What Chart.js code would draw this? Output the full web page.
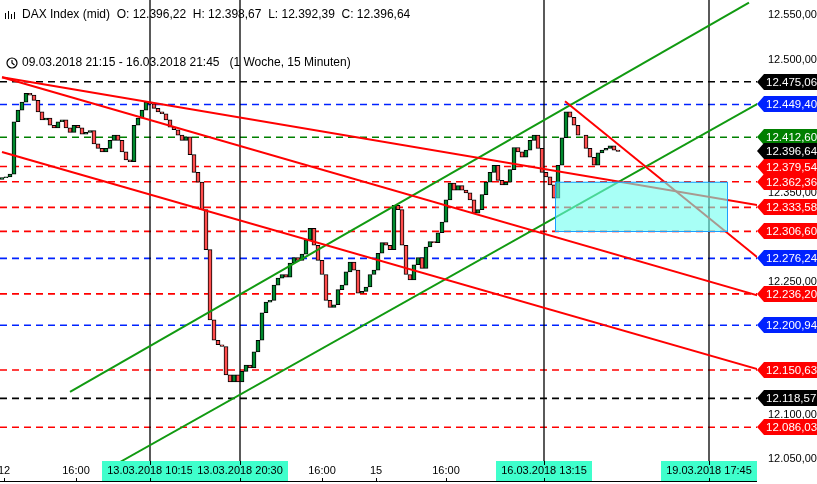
<!DOCTYPE html>
<html>
<head>
<meta charset="utf-8">
<script src="https://cdn.jsdelivr.net/npm/chart.js@4/dist/chart.umd.min.js"></script>
<style>
  html, body { margin: 0; padding: 0; background: #fff; }
  #wrap { width: 817px; height: 484px; position: relative; }
</style>
</head>
<body>
<div id="wrap"><canvas id="chart"></canvas></div>
<script>
// 15-minute closes, DAX 09.03 - 16.03.2018
const closes = [
  12367, 12368, 12371, 12430, 12443, 12452, 12462, 12460, 12454, 12441,
  12432, 12434, 12426, 12423, 12430, 12432, 12423, 12418, 12426, 12423,
  12416, 12418, 12420, 12405, 12400, 12396, 12400, 12409, 12415, 12409,
  12396, 12387, 12385, 12426, 12434, 12443, 12452, 12450, 12445, 12441,
  12439, 12432, 12424, 12421, 12415, 12409, 12413, 12393, 12373, 12362,
  12331, 12286, 12207, 12184, 12179, 12177, 12145, 12137, 12145, 12137,
  12149, 12156, 12153, 12171, 12184, 12215, 12227, 12229, 12246, 12254,
  12258, 12255, 12271, 12277, 12274, 12281, 12297, 12310, 12291, 12274,
  12258, 12229, 12221, 12224, 12241, 12246, 12261, 12272, 12263, 12237,
  12239, 12244, 12258, 12263, 12282, 12294, 12291, 12286, 12336, 12331,
  12291, 12258, 12252, 12269, 12277, 12265, 12289, 12295, 12294, 12305,
  12317, 12342, 12361, 12353, 12358, 12353, 12350, 12342, 12327, 12331,
  12348, 12362, 12373, 12381, 12364, 12359, 12362, 12376, 12401, 12396,
  12390, 12398, 12409, 12415, 12400, 12373, 12368, 12359, 12344, 12381,
  12412, 12441, 12435, 12426, 12415, 12415, 12400, 12390, 12381, 12395,
  12398, 12400, 12403, 12398, 12396.64
];

const levelValues = [12475.06, 12449.40, 12412.60, 12379.54, 12362.36, 12333.58, 12306.60, 12276.24, 12236.20, 12200.94, 12150.63, 12118.57, 12086.03];
const levelColors = ["#000", "#0022ff", "#008000", "#ff0000", "#ff0000", "#ff0000", "#ff0000", "#0022ff", "#ff0000", "#0022ff", "#ff0000", "#000", "#ff0000"];
const tagValues = [12475.06, 12449.40, 12412.60, 12396.64, 12379.54, 12362.36, 12333.58, 12306.60, 12276.24, 12236.20, 12200.94, 12150.63, 12118.57, 12086.03];
const tagColors = ["#000", "#0022ff", "#008000", "#000", "#ff0000", "#ff0000", "#ff0000", "#ff0000", "#0022ff", "#ff0000", "#0022ff", "#ff0000", "#000", "#ff0000"];
const axisTicks = [12050, 12100, 12250, 12350, 12500, 12550];

// trendlines: [x1, y1, x2, y2] in candle index / price
const redLines = [
  [0, 12480, 189.25, 12336],
  [0, 12480, 189.25, 12234],
  [0, 12396, 189.25, 12151],
  [140.75, 12453, 189.25, 12276]
];
const greenLines = [
  [17, 12126, 186.75, 12564],
  [29.5, 12047, 189.25, 12451]
];
const zone = { x1: 138.25, x2: 181.25, top: 12362.4, bottom: 12307 };
const markerX = [37, 59.5, 135.5, 176.75];

const bottomLabels = [
  { x: 0.5, text: "12" }, { x: 18.5, text: "16:00" }, { x: 80, text: "16:00" },
  { x: 93.5, text: "15" }, { x: 111, text: "16:00" }
];
const bottomBoxes = [
  { x: 37, text: "13.03.2018 10:15" }, { x: 59.5, text: "13.03.2018 20:30" },
  { x: 135.5, text: "16.03.2018 13:15" }, { x: 176.75, text: "19.03.2018 17:45" }
];

const X_MIN = -0.5, X_MAX = 188.75;

const candles = closes.map((c, i) => ({ x: i, y: [i ? closes[i - 1] : c - 2, c] }));
const candleColors = candles.map(d => d.y[1] >= d.y[0] ? "#008a2e" : "#ff4d4d");

const datasets = [];
levelValues.forEach((v, i) => datasets.push({
  type: "line", data: [{ x: X_MIN, y: v }, { x: X_MAX, y: v }],
  borderColor: levelColors[i], borderWidth: 1.6, borderDash: [7, 5], pointRadius: 0, order: 5
}));
markerX.forEach(x => datasets.push({
  type: "line", data: [{ x: x, y: 12047 }, { x: x, y: 12567 }],
  borderColor: "#000", borderWidth: 1.3, pointRadius: 0, order: 4
}));
datasets.push({
  type: "bar", data: candles, backgroundColor: candleColors,
  borderColor: "#000", borderWidth: 1, borderSkipped: false, barThickness: 4, order: 3
});
redLines.forEach(l => datasets.push({
  type: "line", data: [{ x: l[0], y: l[1] }, { x: l[2], y: l[3] }],
  borderColor: "#ff0000", borderWidth: 2, pointRadius: 0, order: 2
}));
greenLines.forEach(l => datasets.push({
  type: "line", data: [{ x: l[0], y: l[1] }, { x: l[2], y: l[3] }],
  borderColor: "#119a11", borderWidth: 2, pointRadius: 0, order: 2
}));

const fmt = v => {
  const s = v.toFixed(2).replace(".", ",");
  return s.slice(0, 2) + "." + s.slice(2);
};

const overlay = {
  id: "overlay",
  afterDatasetsDraw(chart) {
    const { ctx, scales: { x, y }, chartArea } = chart;
    ctx.save();
    // zone box
    const zx1 = x.getPixelForValue(zone.x1), zx2 = x.getPixelForValue(zone.x2);
    const zy1 = y.getPixelForValue(zone.top), zy2 = y.getPixelForValue(zone.bottom);
    ctx.fillStyle = "rgba(110,255,240,0.6)";
    ctx.fillRect(zx1, zy1, zx2 - zx1, zy2 - zy1);
    ctx.strokeStyle = "#1a9fff";
    ctx.lineWidth = 1;
    ctx.strokeRect(zx1 + 0.5, zy1 + 0.5, zx2 - zx1, zy2 - zy1);

    const font = "12px 'Liberation Sans', Arial, sans-serif";
    const l = chartArea.right;
    ctx.textBaseline = "middle";
    ctx.textAlign = "left";

    // right axis ticks
    ctx.font = "11px 'Liberation Sans', Arial, sans-serif";
    ctx.fillStyle = "#000";
    axisTicks.forEach(v => {
      ctx.fillText(fmt(v).slice(0, -2) + "00-", l + 11, Math.round(y.getPixelForValue(v)));
    });

    // price tags
    ctx.font = "11.5px 'Liberation Sans', Arial, sans-serif";
    tagValues.forEach((v, i) => {
      const py = Math.round(y.getPixelForValue(v));
      ctx.fillStyle = tagColors[i];
      ctx.beginPath();
      ctx.moveTo(l, py);
      ctx.lineTo(l + 7, py - 8);
      ctx.lineTo(817, py - 8);
      ctx.lineTo(817, py + 8);
      ctx.lineTo(l + 7, py + 8);
      ctx.closePath();
      ctx.fill();
      ctx.fillStyle = "#fff";
      ctx.fillText(fmt(v), l + 9, py + 1);
    });

    // header
    ctx.font = font;
    ctx.fillStyle = "#000";
    ctx.fillText("DAX Index (mid)  O: 12.396,22  H: 12.398,67  L: 12.392,39  C: 12.396,64", 22, 15);
    ctx.fillText("09.03.2018 21:15 - 16.03.2018 21:45   (1 Woche, 15 Minuten)", 22, 63);
    ctx.fillRect(5, 13, 1, 6); ctx.fillRect(8, 11, 1, 8); ctx.fillRect(11, 14, 1, 5); ctx.fillRect(14, 12, 1, 7);
    ctx.beginPath(); ctx.arc(12, 63, 5, 0, Math.PI * 2);
    ctx.moveTo(12, 60); ctx.lineTo(12, 63); ctx.lineTo(14.5, 65);
    ctx.strokeStyle = "#000"; ctx.lineWidth = 1.2; ctx.stroke();

    // bottom axis
    const by = chartArea.bottom;
    ctx.strokeStyle = "#000"; ctx.lineWidth = 1;
    ctx.beginPath(); ctx.moveTo(0, 481.5); ctx.lineTo(chartArea.right, 481.5); ctx.stroke();
    ctx.font = "11px 'Liberation Sans', Arial, sans-serif";
    ctx.textAlign = "center";
    bottomLabels.forEach(b => {
      const px = x.getPixelForValue(b.x);
      ctx.fillStyle = "#000";
      ctx.fillText(b.text, px, by + 9);
      ctx.fillRect(px, 478, 1, 4);
    });
    bottomBoxes.forEach(b => {
      const px = x.getPixelForValue(b.x);
      ctx.fillStyle = "#3fffcc";
      ctx.fillRect(px - 48, by - 1, 96, 20);
      ctx.fillStyle = "#000";
      ctx.fillText(b.text, px, by + 9);
      ctx.fillRect(px, by - 1, 1, 4);
      ctx.fillRect(px, 478, 1, 4);
    });
    ctx.restore();
  }
};

new Chart(document.getElementById("chart"), {
  type: "bar",
  data: { datasets },
  options: {
    responsive: true,
    maintainAspectRatio: false,
    animation: false,
    layout: { padding: { top: 0, bottom: 22, left: 0, right: 60 } },
    plugins: { legend: { display: false }, tooltip: { enabled: false } },
    scales: {
      x: { type: "linear", min: X_MIN, max: X_MAX, display: false, offset: false },
      y: { min: 12047, max: 12567, display: false }
    }
  },
  plugins: [overlay]
});
</script>
</body>
</html>
